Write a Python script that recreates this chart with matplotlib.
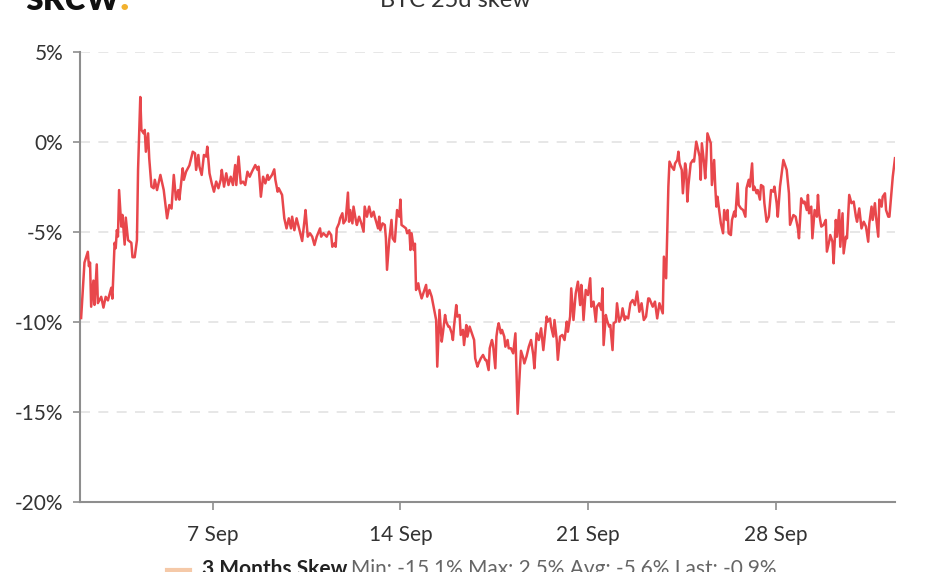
import matplotlib
matplotlib.use("Agg")
import matplotlib.pyplot as plt
import matplotlib.dates as mdates
from matplotlib.ticker import FixedLocator, FuncFormatter
import pandas as pd

plt.rcParams['font.family'] = ['Lato', 'DejaVu Sans']
plt.rcParams['axes.unicode_minus'] = False

title = "BTC 25d skew"
series_name = "3 Months Skew"
stats_text = "Min: -15.1% Max: 2.5% Avg: -5.6% Last: -0.9%"
start_time = "2020-09-02 00:00"

# hours since start_time
hours = [
    2, 5, 8, 9, 10, 11, 13, 14, 16, 17, 20, 22, 24, 26, 29, 30, 32, 33, 34, 35,
    36, 38, 39, 41, 42, 44, 47, 48, 50, 52, 53, 55, 56, 58, 59, 60, 62, 63, 65, 67,
    68, 70, 73, 76, 79, 81, 83, 85, 87, 89, 90, 93, 94, 96, 99, 102, 104, 105, 107, 108,
    110, 112, 114, 115, 117, 119, 121, 123, 125, 127, 128, 130, 132, 134, 136, 138, 140, 141, 143, 145,
    147, 149, 151, 153, 155, 158, 160, 161, 163, 165, 167, 169, 170, 173, 175, 176, 178, 179, 182, 184,
    186, 188, 190, 191, 193, 195, 198, 200, 202, 203, 205, 207, 209, 211, 213, 216, 217, 219, 222, 224,
    226, 227, 229, 230, 231, 233, 234, 236, 237, 239, 241, 242, 243, 245, 246, 248, 249, 251, 253, 255,
    256, 258, 260, 262, 264, 265, 268, 269, 270, 272, 274, 275, 276, 278, 280, 281, 283, 285, 287, 288,
    289, 291, 293, 294, 296, 297, 298, 300, 301, 302, 304, 305, 307, 309, 311, 312, 314, 316, 318, 320,
    321, 323, 325, 326, 328, 329, 331, 332, 334, 335, 336, 338, 339, 341, 342, 344, 345, 347, 348, 350,
    352, 354, 355, 357, 358, 360, 362, 364, 365, 367, 368, 370, 371, 373, 374, 375, 376, 378, 379, 381,
    382, 384, 385, 387, 389, 391, 392, 393, 395, 396, 398, 399, 401, 403, 405, 407, 408, 410, 412, 414,
    416, 419, 420, 422, 423, 425, 426, 428, 429, 431, 433, 435, 437, 438, 440, 441, 443, 445, 447, 449,
    450, 451, 452, 454, 456, 458, 459, 461, 463, 464, 466, 468, 469, 470, 472, 473, 475, 476, 478, 479,
    481, 482, 484, 486, 487, 489, 490, 492, 494, 496, 498, 500, 502, 504, 506, 508, 510, 511, 514, 516,
    518, 520, 523, 524, 526, 528, 529, 531, 533, 534, 536, 537, 538, 540, 541, 543, 544, 545, 546, 548,
    550, 551, 553, 554, 556, 557, 558, 560, 561, 562, 563, 565, 566, 567, 569, 570, 571, 572, 574, 575,
    577, 578, 580, 581, 582, 584, 585, 587, 588, 590, 591, 593, 595, 597, 598, 600, 601, 603, 604, 605,
    607, 608, 610, 611, 613, 614, 616, 618, 620, 622, 623, 625, 626, 628, 631, 634, 636, 637, 640, 642,
    644, 645, 647, 649, 650, 652, 653, 654, 656, 657, 659, 661, 662, 663, 665, 667, 669, 670, 672, 673,
    675, 676, 678, 679, 681, 682, 684, 685, 687, 688, 690, 692, 694, 696, 697, 699, 701, 703, 705, 707,
    708, 710, 711, 713, 714, 716, 717, 719, 720, 722, 723, 725, 726, 728, 729, 731,
]

skew = [
    -9.78, -6.7, -6.1, -6.9, -6.7, -9.15, -7.7, -9.05, -6.8, -8.95, -8.6, -9.2, -8.6, -8.8, -8.1, -8.7, -5.6, -5.9, -4.9, -5.25,
    -2.67, -4.7, -4.05, -5.7, -4.2, -5.45, -5.6, -6.4, -6.4, -5.45, -1.55, 2.5, 0.67, 0.48, 0.67, -0.54, 0.48, -0.9, -2.48, -2.57,
    -2.1, -2.67, -1.83, -2.67, -4.24, -3.5, -3.7, -1.83, -3.2, -2.67, -3.2, -1.46, -2.1, -1.65, -1.3, -0.54, -0.63, -1.55, -0.72, -1.37,
    -1.83, -0.72, -0.81, -0.26, -1.74, -2.3, -2.76, -2.2, -2.57, -2.1, -1.55, -2.48, -1.74, -2.39, -1.93, -2.39, -1.28, -2.39, -0.81, -2.3,
    -2.2, -2.39, -1.65, -1.93, -1.65, -1.28, -1.55, -1.37, -3.04, -1.93, -2.3, -1.83, -2.1, -1.83, -1.52, -2.1, -2.76, -2.57, -2.94, -4.24,
    -4.8, -4.24, -4.8, -4.15, -4.9, -4.24, -5.0, -5.5, -4.4, -3.78, -5.26, -5.07, -5.26, -5.72, -5.26, -4.8, -5.26, -5.07, -5.26, -4.98,
    -5.17, -5.82, -5.63, -5.82, -4.8, -4.52, -4.24, -3.96, -4.52, -4.33, -2.81, -4.43, -3.78, -4.52, -3.59, -4.33, -4.61, -4.15, -4.52, -4.98,
    -3.59, -4.15, -3.59, -4.15, -3.87, -4.15, -4.8, -4.15, -4.9, -4.52, -4.61, -5.35, -7.1, -5.45, -4.33, -5.35, -5.54, -3.78, -4.15, -3.2,
    -4.61, -4.7, -4.8, -5.07, -4.9, -6.0, -5.07, -6.0, -5.65, -8.22, -7.85, -8.22, -8.69, -8.31, -7.94, -8.59, -8.22, -8.59, -9.24, -9.89,
    -12.48, -9.33, -11.09, -10.63, -9.61, -9.98, -10.26, -10.26, -10.63, -11.0, -10.26, -9.06, -9.7, -9.61, -10.72, -10.44, -11.28, -10.17, -10.81, -10.26,
    -10.63, -11.0, -12.02, -12.48, -12.3, -12.02, -11.83, -12.11, -12.11, -12.67, -11.46, -11.0, -11.28, -12.57, -10.81, -10.35, -10.07, -10.63, -10.44, -10.81,
    -11.37, -11.0, -11.46, -11.46, -11.74, -10.63, -12.85, -15.1, -12.67, -11.6, -12.0, -12.3, -11.9, -11.37, -11.0, -11.83, -12.57, -10.63, -11.0, -10.35,
    -11.56, -9.7, -9.98, -9.8, -10.26, -10.81, -9.89, -11.0, -12.1, -10.81, -10.72, -11.0, -9.98, -10.54, -9.7, -8.13, -9.89, -8.41, -7.76, -9.06,
    -7.94, -8.59, -9.89, -8.22, -8.5, -7.57, -9.15, -8.87, -9.98, -9.15, -8.96, -9.33, -8.13, -11.28, -9.61, -9.89, -10.26, -10.17, -11.56, -10.07,
    -9.98, -8.96, -9.98, -9.7, -9.24, -9.89, -9.7, -9.8, -8.96, -8.78, -9.06, -8.31, -9.43, -8.96, -9.89, -9.7, -8.69, -8.7, -9.15, -8.87,
    -9.8, -8.96, -9.52, -6.37, -7.57, -2.48, -1.09, -1.37, -1.55, -1.19, -1.0, -0.54, -1.19, -1.55, -2.85, -1.19, -1.55, -3.31, -2.39, -1.19,
    -1.0, -1.09, 0.02, -0.26, -0.81, -2.1, -0.07, -1.19, -2.02, -1.0, 0.48, 0.11, -0.07, -2.39, -1.0, -2.48, -3.59, -3.04, -4.06, -4.52,
    -5.07, -3.78, -4.33, -3.78, -5.07, -5.17, -4.33, -3.87, -4.15, -2.3, -3.5, -3.69, -3.78, -4.15, -2.57, -2.1, -2.48, -1.19, -2.67, -2.48,
    -2.85, -2.67, -3.2, -2.39, -2.48, -3.4, -4.43, -4.15, -2.67, -2.76, -2.48, -3.4, -4.15, -2.48, -1.0, -1.55, -2.85, -4.6, -4.06, -4.15,
    -4.8, -5.35, -3.13, -3.4, -3.31, -3.78, -2.94, -3.96, -3.59, -5.35, -3.78, -4.15, -2.94, -3.96, -4.7, -4.6, -4.33, -6.09, -5.54, -5.17,
    -5.54, -6.74, -4.33, -5.26, -3.78, -5.82, -3.96, -6.19, -5.26, -5.35, -2.94, -3.4, -3.31, -4.15, -4.43, -3.69, -4.8, -4.43, -4.7, -5.54,
    -4.52, -3.59, -4.33, -3.4, -4.15, -5.26, -3.2, -3.59, -3.04, -2.85, -3.78, -4.15, -4.15, -2.67, -1.93, -0.9,
]

x_ticks = ["2020-09-07", "2020-09-14", "2020-09-21", "2020-09-28"]
y_ticks = [-20, -15, -10, -5, 0, 5]

t0 = pd.Timestamp(start_time)
times = [t0 + pd.Timedelta(hours=h) for h in hours]

W, H = 942, 572
fig = plt.figure(figsize=(W / 100, H / 100), dpi=100)
ax = fig.add_axes([80 / W, 1 - 502 / H, (895 - 80) / W, (502 - 52) / H])

line_color = "#e8474c"
ax.plot(times, skew, color=line_color, linewidth=1.8, solid_joinstyle="round", zorder=3)

ax.set_ylim(-20, 5)
ax.set_xlim(t0 + pd.Timedelta(hours=1), t0 + pd.Timedelta(hours=731))
ax.yaxis.set_major_locator(FixedLocator(y_ticks))
ax.yaxis.set_major_formatter(FuncFormatter(lambda v, p: f"{int(round(v))}%"))
ax.xaxis.set_major_locator(FixedLocator([mdates.date2num(pd.Timestamp(d)) for d in x_ticks]))
ax.xaxis.set_major_formatter(mdates.DateFormatter("%-d %b"))

for v in y_ticks[1:]:
    ax.axhline(v, color="#e3e3e3", linewidth=1.2, linestyle=(0, (6, 5)), zorder=1)

for s in ["top", "right"]:
    ax.spines[s].set_visible(False)
for s in ["left", "bottom"]:
    ax.spines[s].set_color("#8e8e8e")
    ax.spines[s].set_linewidth(1.5)

ax.tick_params(axis="y", length=5, width=1.2, color="#8e8e8e", labelsize=15,
               labelcolor="#333333", pad=7)
ax.tick_params(axis="x", length=6, width=1.2, color="#8e8e8e", labelsize=15,
               labelcolor="#333333", pad=10.5)

# title and logo (partially cut off at top like the reference)
fig.text(455 / W, 1 - 7 / H, title, ha="center", va="baseline", fontsize=17,
         color="#333333")
logo = fig.text(25 / W, 1 - 10 / H, "skew", ha="left", va="baseline", fontsize=29,
                fontweight="black", color="#111111")
fig.canvas.draw()
r = fig.canvas.get_renderer()
bb = logo.get_window_extent(r)
fig.text(bb.x1 / W + 1 / W, 1 - 10 / H, ".", ha="left", va="baseline", fontsize=29,
         fontweight="black", color="#f2b12e")

# legend at the bottom (partially cut off like the reference)
legend_y = 1 - 575 / H
fig.add_artist(plt.Line2D([167 / W, 190 / W], [1 - 570 / H, 1 - 570 / H],
                          transform=fig.transFigure, color="#f5c9a8", linewidth=3))
name_txt = fig.text(202 / W, legend_y, series_name, ha="left", va="baseline",
                    fontsize=15, fontweight="bold", color="#222222")
fig.canvas.draw()
nb = name_txt.get_window_extent(r)
fig.text(nb.x1 / W + 4 / W, legend_y, stats_text, ha="left", va="baseline",
         fontsize=15, color="#666666")

fig.savefig("out.png", dpi=100)
